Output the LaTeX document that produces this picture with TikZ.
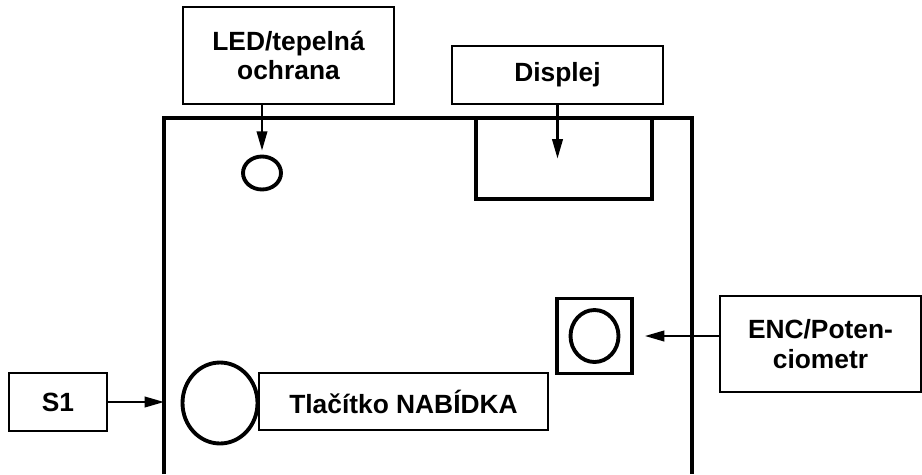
\documentclass[tikz,border=0pt]{standalone}
\usepackage{fontspec}
\setmainfont{Liberation Sans}
\usetikzlibrary{arrows.meta,calc,shapes.geometric}

\tikzset{
  label box/.style={draw,line width=1.1pt,inner sep=0pt,align=center,
    font=\fontsize{15}{17}\selectfont\bfseries},
  part/.style={draw,line width=2.2pt,inner sep=0pt},
  pointer/.style={line width=1.2pt,-{Triangle[length=11pt,width=6pt]}}
}

\begin{document}
\begin{tikzpicture}[x=0.02cm,y=-0.02cm]
\useasboundingbox (0,0) rectangle (922,474);

% front panel
\coordinate (mainTL) at (164,118);
\coordinate (mainTR) at (692,118);
\draw[line width=2.2pt] (164,474) -- (mainTL) -- (mainTR) -- (692,474);

% parts on the panel
\node[part,ellipse,minimum width=0.76cm,minimum height=0.66cm] (led) at (262,173) {};
\node[part,minimum width=3.52cm,minimum height=1.62cm] (disp) at (564,158.5) {};
\node[part,ellipse,minimum width=1.5cm,minimum height=1.62cm] (btn) at (220,403) {};
\node[part,minimum size=1.5cm] (enc) at (594.5,336) {};
\node[part,ellipse,minimum width=0.96cm,minimum height=1.04cm] (knob) at (594.5,336) {};

% labels
\node[label box,minimum width=4.22cm,minimum height=1.94cm] (LED) at (288.5,55.5) {LED/tepelná\\ochrana};
\node[label box,minimum width=4.22cm,minimum height=1.16cm] (Displej) at (557.5,75) {Displej};
\node[label box,minimum width=1.96cm,minimum height=1.16cm] (S1) at (58,402) {S1};
\node[label box,minimum width=5.78cm,minimum height=1.14cm] (Tlacitko) at (403.5,401.5) {Tlačítko NABÍDKA};
\node[label box,minimum width=4.02cm,minimum height=1.92cm] (ENC) at (820.5,344) {ENC/Poten-\\ciometr};

% pointers
\draw[pointer,shorten >=0.08cm] (LED.south -| led) -- (led.north);
\draw[pointer] (Displej.south) -- (Displej.south |- disp.center);
\draw[pointer] (S1.east) -- (S1.east -| mainTL);
\draw[pointer,shorten >=0.22cm] (ENC.west |- enc) -- (enc.east);

\end{tikzpicture}
\end{document}
